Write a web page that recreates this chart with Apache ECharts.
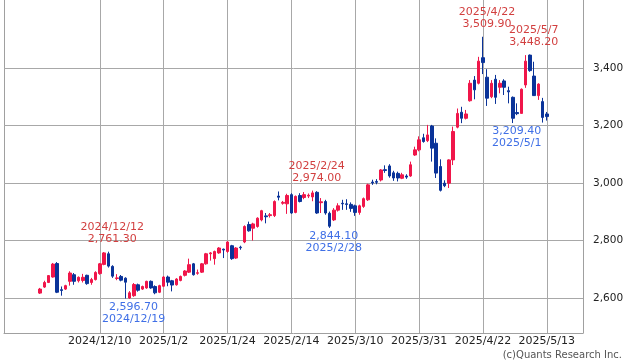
<!DOCTYPE html>
<html><head><meta charset="utf-8">
<script src="https://cdn.jsdelivr.net/npm/echarts@6/dist/echarts.min.js"></script>
<style>html,body{margin:0;padding:0;background:#fff}#c{width:638px;height:362px}</style>
</head><body><div id="c"></div>
<script>
const dates = ['2024/11/19','2024/11/20','2024/11/21','2024/11/22','2024/11/25','2024/11/26','2024/11/27','2024/11/29','2024/12/2','2024/12/3',
'2024/12/4','2024/12/5','2024/12/6','2024/12/9','2024/12/10','2024/12/11','2024/12/12','2024/12/13','2024/12/16','2024/12/17',
'2024/12/18','2024/12/19','2024/12/20','2024/12/23','2024/12/24','2024/12/26','2024/12/27','2024/12/30','2024/12/31','2025/1/2',
'2025/1/3','2025/1/6','2025/1/7','2025/1/8','2025/1/9','2025/1/10','2025/1/13','2025/1/14','2025/1/15','2025/1/16',
'2025/1/17','2025/1/21','2025/1/22','2025/1/23','2025/1/24','2025/1/27','2025/1/28','2025/1/29','2025/1/30','2025/1/31',
'2025/2/3','2025/2/4','2025/2/5','2025/2/6','2025/2/7','2025/2/10','2025/2/11','2025/2/12','2025/2/13','2025/2/14',
'2025/2/18','2025/2/19','2025/2/20','2025/2/21','2025/2/24','2025/2/25','2025/2/26','2025/2/27','2025/2/28','2025/3/3',
'2025/3/4','2025/3/5','2025/3/6','2025/3/7','2025/3/10','2025/3/11','2025/3/12','2025/3/13','2025/3/14','2025/3/17',
'2025/3/18','2025/3/19','2025/3/20','2025/3/21','2025/3/24','2025/3/25','2025/3/26','2025/3/27','2025/3/28','2025/3/31',
'2025/4/1','2025/4/2','2025/4/3','2025/4/4','2025/4/7','2025/4/8','2025/4/9','2025/4/10','2025/4/11','2025/4/14',
'2025/4/15','2025/4/16','2025/4/17','2025/4/21','2025/4/22','2025/4/23','2025/4/24','2025/4/25','2025/4/28','2025/4/29',
'2025/4/30','2025/5/1','2025/5/2','2025/5/5','2025/5/6','2025/5/7','2025/5/8','2025/5/9','2025/5/12','2025/5/13'];

const open = [2617,2638,2654,2673,2720,2629,2631,2658,2681,2660,
2661,2679,2654,2664,2685,2717,2754,2710,2668,2675,
2669,2600,2608,2646,2631,2635,2658,2640,2620,2641,
2673,2660,2646,2661,2679,2690,2719,2686,2690,2719,
2754,2737,2757,2770,2762,2782,2739,2777,2795,2856,
2843,2849,2872,2886,2887,2887,2955,2930,2928,2960,
2898,2957,2950,2955,2952,2968,2932,2936,2895,2872,
2906,2930,2928,2926,2921,2898,2919,2942,3004,3006,
3011,3047,3060,3036,3034,3017,3025,3025,3098,3116,
3158,3148,3199,3139,3058,3000,3000,3081,3195,3247,
3226,3287,3359,3348,3437,3369,3301,3362,3334,3356,
3322,3299,3246,3243,3342,3446,3373,3305,3284,3241];

const close = [2631,2654,2678,2718,2620,2626,2643,2687,2658,2672,
2672,2650,2664,2689,2719,2757,2711,2676,2670,2662,
2655,2618,2647,2627,2640,2658,2635,2618,2643,2673,
2655,2645,2666,2675,2694,2716,2681,2688,2719,2754,
2757,2762,2774,2767,2795,2737,2774,2775,2849,2834,
2858,2878,2904,2883,2890,2936,2951,2933,2957,2896,
2954,2936,2960,2958,2966,2896,2935,2896,2850,2906,
2921,2928,2926,2912,2898,2921,2946,2994,3001,3003,
3046,3044,3025,3018,3018,3029,3021,3064,3116,3151,
3145,3168,3122,3035,2975,2991,3081,3180,3243,3226,
3241,3348,3325,3425,3420,3296,3348,3299,3348,3334,
3318,3226,3242,3327,3425,3392,3305,3345,3229,3232];

const low = [2614,2635,2652,2671,2617,2608,2628,2643,2646,2654,
2654,2646,2646,2661,2681,2714,2706,2670,2662,2658,
2598,2596.7,2604,2622,2628,2632,2632,2613,2617,2638,
2641,2623,2643,2658,2675,2687,2678,2681,2687,2716,
2730,2716,2754,2739,2757,2733,2736,2768,2791,2831,
2800,2845,2867,2860,2880,2882,2940,2925,2893,2893,
2895,2933,2944,2948,2937,2893,2896,2890,2844.1,2868,
2901,2907,2907,2900,2886,2890,2914,2938,2994,2996,
3006,3036,3019,3008,3006,3014,3015,3022,3095,3111,
3141,3143,3075,3018,2971,2986,2983,3063,3191,3209,
3222,3284,3292,3344,3380,3269,3296,3276,3313,3307,
3278,3209.4,3237,3243,3332,3388,3304,3290,3211,3218];

const high = [2635,2660,2680,2722,2725,2640,2646,2693,2687,2675,
2684,2681,2670,2693,2722,2760,2761.3,2714,2683,2680,
2672,2624,2652,2650,2643,2660,2661,2644,2646,2676,
2678,2663,2669,2678,2697,2737,2722,2699,2722,2757,
2760,2765,2777,2772,2798,2785,2777,2782,2853,2866,
2862,2881,2907,2896,2896,2940,2971,2938,2963,2965,
2957,2965,2969,2964,2974,2972,2948,2942,2901,2913,
2930,2942,2944,2933,2925,2925,2950,2998,3012,3014,
3049,3062,3066,3043,3040,3036,3031,3075,3127,3163,
3172,3203,3203,3156,3083,3010,3083,3197,3260,3266,
3255,3359,3373,3440,3509.9,3397,3359,3377,3359,3362,
3336,3302,3278,3330,3446,3448.2,3423,3348,3297,3248];

const xLabels = ['2024/12/10','2025/1/2','2025/1/24','2025/2/14','2025/3/10','2025/3/31','2025/4/22','2025/5/13'];
const yTicks = [2600, 2800, 3000, 3200, 3400];
const annHighDates = ['2024/12/12','2025/2/24','2025/4/22','2025/5/7'];
const annLowDates = ['2024/12/19','2025/2/28','2025/5/1'];

const RED = '#f0164a', BLUE = '#0a3399';
const TXT_RED = '#d23f3f', TXT_BLUE = '#3f6fe6';
const FONT = 'DejaVu Sans';

const padL = 8, padR = 8;
const cats = [];
for (let i = 0; i < padL; i++) cats.push('_l' + i);
dates.forEach(d => cats.push(d));
for (let i = 0; i < padR; i++) cats.push('_r' + i);

const candleData = dates.map((d, i) => [d, open[i], close[i], low[i], high[i]]);
const fmt2 = v => v.toLocaleString('en-US', {minimumFractionDigits: 2, maximumFractionDigits: 2});

const markData = [];
annHighDates.forEach(d => {
  const v = high[dates.indexOf(d)];
  markData.push({coord: [d, v], label: {position: 'top', distance: 6, color: TXT_RED, formatter: d + '\n' + fmt2(v)}});
});
annLowDates.forEach(d => {
  const v = low[dates.indexOf(d)];
  markData.push({coord: [d, v], label: {position: 'bottom', distance: 2, color: TXT_BLUE, formatter: fmt2(v) + '\n' + d}});
});

const chart = echarts.init(document.getElementById('c'), null, {renderer: 'canvas'});
chart.setOption({
  animation: false,
  backgroundColor: '#fff',
  grid: {left: 4, right: 55, top: 0, bottom: 29, containLabel: false},
  xAxis: {
    type: 'category', data: cats, boundaryGap: true,
    axisLine: {show: true, lineStyle: {color: '#a0a0a0', width: 1}},
    axisTick: {show: false},
    splitLine: {show: false},
    axisLabel: {interval: (i, v) => xLabels.includes(v), color: '#222', fontSize: 11, fontFamily: FONT, margin: 3}
  },
  yAxis: [{
    type: 'value', position: 'right', min: 2478, max: 3638, splitNumber: 5, scale: true,
    axisLine: {show: true, lineStyle: {color: '#a0a0a0', width: 1}},
    axisTick: {show: false},
    splitLine: {show: false},
    axisLabel: {customValues: yTicks, formatter: v => yTicks.includes(v) ? v.toLocaleString('en-US') : '',
      color: '#222', fontSize: 10.5, fontFamily: FONT, margin: 10}
  }, {
    type: 'value', position: 'left', min: 2478, max: 3638, scale: true,
    axisLine: {show: true, lineStyle: {color: '#a0a0a0', width: 1}},
    axisTick: {show: false}, splitLine: {show: false}, axisLabel: {show: false}
  }],
  series: [{
    type: 'candlestick',
    data: candleData,
    encode: {x: 0, y: [1, 2, 3, 4]},
    barWidth: 3,
    z: 2,
    itemStyle: {color: RED, color0: BLUE, borderColor: RED, borderColor0: BLUE, borderWidth: 1},
    markLine: {
      z: 1, silent: true, animation: false, symbol: ['none', 'none'],
      label: {show: false},
      lineStyle: {color: '#a8a8a8', width: 1, type: 'solid'},
      emphasis: {disabled: true},
      data: [...xLabels.map(d => ({xAxis: d})), ...yTicks.map(v => ({yAxis: v}))]
    },
    markPoint: {
      silent: true, animation: false,
      symbol: 'circle', symbolSize: 1,
      itemStyle: {color: 'rgba(0,0,0,0)'},
      label: {show: true, fontSize: 11, fontFamily: FONT, lineHeight: 12, offset: [4, 0], align: 'center'},
      data: markData
    }
  }],
  graphic: [{
    type: 'text', right: 16, bottom: 2,
    style: {text: '(c)Quants Research Inc.', fill: '#555', font: '10px "DejaVu Sans"'}
  }]
});
</script>
</body></html>
